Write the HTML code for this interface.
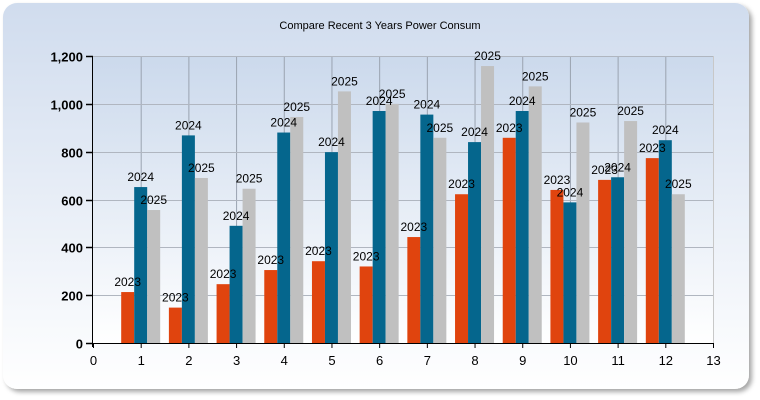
<!DOCTYPE html>
<html><head><meta charset="utf-8"><style>body{margin:0;background:#fff}svg{display:block;font-family:"Liberation Sans",sans-serif}</style></head><body>
<svg width="760" height="400" viewBox="0 0 760 400">
<defs>
<linearGradient id="bg" x1="0" y1="0" x2="0" y2="1"><stop offset="0" stop-color="#d0dcee"/><stop offset="1" stop-color="#ffffff"/></linearGradient>
<linearGradient id="pl" x1="0" y1="0" x2="0" y2="1"><stop offset="0" stop-color="#cbd9ec"/><stop offset="1" stop-color="#ffffff"/></linearGradient>
<filter id="sh" x="-5%" y="-5%" width="110%" height="115%"><feDropShadow dx="3" dy="3" stdDeviation="2.5" flood-color="#000" flood-opacity="0.35"/></filter>
</defs>
<rect x="3" y="3" width="746" height="386" rx="14" fill="url(#bg)" filter="url(#sh)"/>
<text x="380" y="29" text-anchor="middle" font-size="11" fill="#000">Compare Recent 3 Years Power Consum</text>
<rect x="93" y="56" width="620" height="287" fill="url(#pl)"/>
<g id="grid" stroke="#9aa3b0" stroke-width="1"></g>
<g id="bars"></g>
<g id="labels"></g>
<g id="axes"></g>
</svg>
<script>
const ns="http://www.w3.org/2000/svg";
function el(p,t,a,txt){const e=document.createElementNS(ns,t);for(const k in a)e.setAttribute(k,a[k]);if(txt!==undefined)e.textContent=txt;document.getElementById(p).appendChild(e);}
const X0=93,W=620/13,Y0=343,H=287;
const xs=v=>X0+v*W, ys=v=>Y0-v/1200*H;
for(let i=1;i<=13;i++){el("grid","line",{x1:xs(i)+.5,x2:xs(i)+.5,y1:56,y2:343,stroke:i==13?"#c8c8c8":"#9aa3b0"});}
for(let v=200;v<=1200;v+=200){el("grid","line",{x1:93,x2:713,y1:Math.round(ys(v))+.5,y2:Math.round(ys(v))+.5,stroke:"#b0b6c0"});}
const d=[[213,148,246,305,342,320,443,622,858,640,682,773],[652,868,490,880,798,970,955,840,970,588,693,848],[556,690,645,945,1052,1000,858,1158,1073,922,928,622]];
const c=["#e0440e","#05668d","#c0c0c0"],lab=["2023","2024","2025"];
for(let m=0;m<12;m++)for(let s=0;s<3;s++){const v=d[s][m],cx=xs(m+1),x=cx-19.5+s*13,y=ys(v);
el("bars","rect",{x:x,y:y,width:13,height:Y0-y,fill:c[s]});
el("labels","text",{x:x+6.5,y:y-6,"text-anchor":"middle","font-size":"12",fill:"#000"},lab[s]);}
el("axes","line",{x1:92.5,x2:92.5,y1:56,y2:347,stroke:"#000"});
el("axes","line",{x1:88,x2:713,y1:343.5,y2:343.5,stroke:"#000"});
for(let v=0;v<=1200;v+=200){const y=Math.round(ys(v))+.5;el("axes","line",{x1:86,x2:93,y1:y,y2:y,stroke:"#000","stroke-width":1.5});
el("axes","text",{x:83,y:y+5,"text-anchor":"end","font-size":"13","font-weight":"bold",fill:"#000"},v.toLocaleString("en-US"));}
for(let i=0;i<=13;i++){const x=xs(i)+.5;el("axes","line",{x1:x,x2:x,y1:343,y2:348,stroke:"#000"});
el("axes","text",{x:x,y:365,"text-anchor":"middle","font-size":"13",fill:"#000"},i);}
</script>
</body></html>
